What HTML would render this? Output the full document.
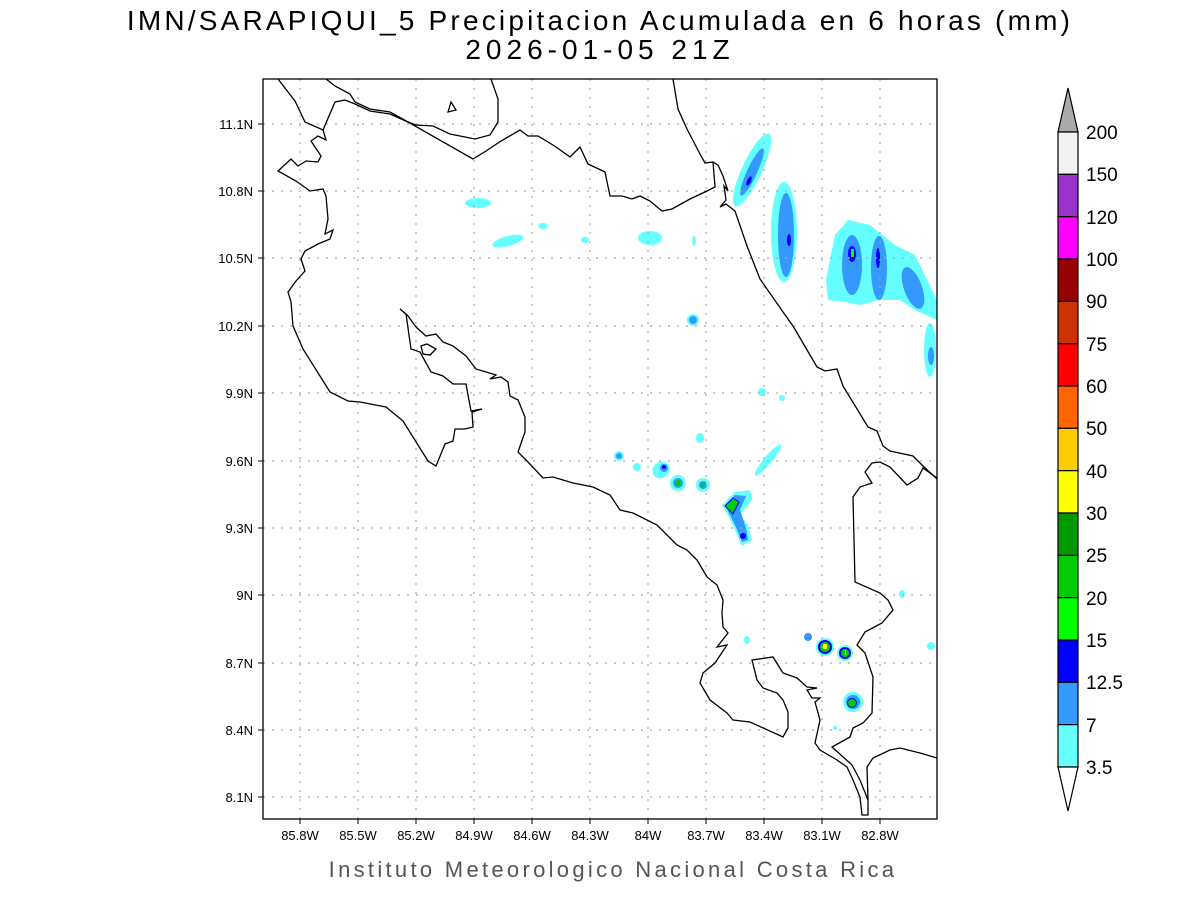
<!DOCTYPE html>
<html><head><meta charset="utf-8"><style>
body{margin:0;background:#fff;}
svg{display:block;font-family:"Liberation Sans",sans-serif;}
</style></head><body>
<svg width="1200" height="900" viewBox="0 0 1200 900" xmlns="http://www.w3.org/2000/svg">
<rect width="1200" height="900" fill="#fff"/>
<text x="600" y="30" font-size="28" text-anchor="middle" fill="#000" letter-spacing="3.2">IMN/SARAPIQUI_5 Precipitacion Acumulada en 6 horas (mm)</text>
<text x="600" y="59" font-size="28" text-anchor="middle" fill="#000" letter-spacing="5">2026-01-05 21Z</text>

<!-- precipitation -->
<g>
<ellipse cx="478" cy="203" rx="13" ry="5" fill="#66ffff"/>
<ellipse cx="508" cy="241" rx="16" ry="5" fill="#66ffff" transform="rotate(-15 508 241)"/>
<ellipse cx="543" cy="226" rx="5" ry="3" fill="#66ffff"/>
<ellipse cx="585" cy="240" rx="4" ry="3" fill="#66ffff"/>
<ellipse cx="650" cy="238" rx="12" ry="7" fill="#66ffff"/>
<ellipse cx="694" cy="241" rx="2" ry="5" fill="#66ffff"/>
<ellipse cx="752" cy="170" rx="10" ry="40" fill="#66ffff" transform="rotate(25 752 170)"/>
<ellipse cx="752" cy="172" rx="5" ry="26" fill="#3399ff" transform="rotate(25 752 172)"/>
<ellipse cx="749" cy="181" rx="2" ry="5" fill="#0000ff" transform="rotate(25 749 181)"/>
<ellipse cx="784" cy="232" rx="13" ry="50" fill="#66ffff"/>
<ellipse cx="786" cy="235" rx="8" ry="42" fill="#3399ff"/>
<ellipse cx="789" cy="240" rx="2" ry="6" fill="#0000ff"/>
<path d="M828,300 L826,280 L835,235 L848,220 L870,225 L895,245 L915,255 L937,300 L937,320 L915,310 L900,300 L880,300 L860,305 L845,302 Z" fill="#66ffff"/>
<ellipse cx="852" cy="265" rx="10" ry="30" fill="#3399ff"/>
<ellipse cx="879" cy="268" rx="8" ry="32" fill="#3399ff"/>
<ellipse cx="913" cy="288" rx="9" ry="22" fill="#3399ff" transform="rotate(-20 913 288)"/>
<ellipse cx="852" cy="254" rx="4" ry="8" fill="#0000ff"/>
<rect x="851" y="249" width="3" height="8" fill="#00ff00"/>
<ellipse cx="878" cy="258" rx="2" ry="10" fill="#0000ff"/>
<ellipse cx="930" cy="350" rx="6" ry="27" fill="#66ffff"/>
<ellipse cx="931" cy="356" rx="3" ry="9" fill="#3399ff"/>
<circle cx="693" cy="320" r="6" fill="#66ffff"/><circle cx="693" cy="320" r="4" fill="#3399ff"/>
<circle cx="762" cy="392" r="4" fill="#66ffff"/><circle cx="782" cy="398" r="3" fill="#66ffff"/>
<ellipse cx="700" cy="438" rx="4" ry="5" fill="#66ffff"/>
<ellipse cx="768" cy="460" rx="4" ry="20" fill="#66ffff" transform="rotate(40 768 460)"/>
<circle cx="619" cy="456" r="5" fill="#66ffff"/><circle cx="619" cy="456" r="3" fill="#3399ff"/>
<circle cx="637" cy="467" r="4" fill="#66ffff"/>
<ellipse cx="661" cy="470" rx="9" ry="8" fill="#66ffff" transform="rotate(-40 661 470)"/><circle cx="664" cy="468" r="4" fill="#3399ff"/><circle cx="664" cy="467" r="2" fill="#0000ff"/>
<circle cx="678" cy="483" r="8" fill="#66ffff"/><circle cx="678" cy="483" r="5" fill="#3399ff"/><circle cx="678" cy="483" r="3" fill="#00cc00"/>
<circle cx="703" cy="485" r="7" fill="#66ffff"/><circle cx="703" cy="485" r="4" fill="#3399ff"/><circle cx="703" cy="485" r="2" fill="#00cc00"/>
<path d="M722,505 L735,492 L750,490 L752,500 L740,515 L748,525 L752,540 L742,546 L735,530 L728,515 Z" fill="#66ffff"/>
<path d="M725,505 L735,495 L746,496 L740,510 L746,528 L748,540 L742,542 L735,525 L730,515 Z" fill="#3399ff"/>
<path d="M725,506 L733,498 L739,502 L733,514 Z" fill="#00cc00" stroke="#0000ff" stroke-width="1"/>
<circle cx="743" cy="536" r="3" fill="#0000ff"/>
<ellipse cx="747" cy="640" rx="3" ry="4" fill="#66ffff"/>
<circle cx="808" cy="637" r="4" fill="#3399ff"/>
<circle cx="825" cy="647" r="9" fill="#66ffff"/><circle cx="825" cy="647" r="7" fill="#0000ff"/><circle cx="825" cy="647" r="5" fill="#00cc00"/><rect x="823" y="644" width="4" height="5" fill="#ffff00"/>
<circle cx="845" cy="653" r="8" fill="#66ffff"/><circle cx="845" cy="653" r="6" fill="#0000ff"/><circle cx="845" cy="653" r="4" fill="#00cc00"/><rect x="845" y="650" width="1" height="5" fill="#ffff00"/>
<circle cx="853" cy="702" r="10" fill="#66ffff"/><circle cx="853" cy="702" r="7" fill="#3399ff"/><circle cx="852" cy="703" r="5" fill="#0000ff"/><circle cx="852" cy="703" r="4" fill="#00cc00"/>
<ellipse cx="902" cy="594" rx="3" ry="4" fill="#66ffff"/>
<circle cx="931" cy="646" r="4" fill="#66ffff"/>
<circle cx="835" cy="728" r="2" fill="#66ffff"/>
</g>

<!-- grid -->
<g stroke="#aaa" stroke-width="1.2" stroke-dasharray="2,7" fill="none">
<path d="M300,79V819M358,79V819M416,79V819M474,79V819M532,79V819M590,79V819M648,79V819M706,79V819M764,79V819M822,79V819M880,79V819"/>
<path d="M263,124H937M263,191H937M263,258H937M263,326H937M263,393H937M263,461H937M263,528H937M263,595H937M263,663H937M263,730H937M263,797H937"/>
</g>

<!-- coastlines -->
<g fill="none" stroke="#000" stroke-width="1.3">
<polyline points="278,79 295,101 305,122 323,130 335,102 345,100 355,104 370,111 390,114 408,122 473,159 486,151 501,141 520,130 528,136 538,136 548,142 556,147 570,157 580,147 588,164 605,172 610,196 622,196 632,199 640,196 650,201 662,211 672,209 690,199 707,191 715,187 713,162 705,163 700,154 687,129 678,109 673,79"/>
<polyline points="713,162 718,165 723,176 728,191 724,186 726,200 720,207 726,204 735,211 747,246 760,279 783,312 793,326 817,367 825,371 837,369 843,386 868,427 877,431 883,446 890,451 913,456 923,466 937,479"/>
<polyline points="326,79 335,86 350,94 355,102 370,109 390,112 408,122 416,125 433,126 450,134 460,136 475,139 490,135 498,122 498,99 491,79"/>
<polygon points="448,112 451,102 456,110"/>
<polyline points="323,130 326,140 318,136 311,141 321,156 318,162 306,161 298,166 291,159 278,171 296,181 310,191 323,189 326,196 328,219 325,234 333,230 330,239 318,244 305,251 301,259 305,271 296,281 288,292 291,302 293,326 303,349 330,392 348,401 360,402 386,407 403,421 428,461 436,466 445,444 453,441 455,429 465,429 473,427 472,412 482,409"/>
<polyline points="482,409 471,411 466,384 453,384 443,376 431,372 420,352 411,349 406,314 400,309 408,316 416,327 426,336 436,334 443,342 453,346 466,356 476,369 496,375 490,379 501,377 508,382 510,396 518,400 525,417 525,432 518,452 528,462 543,478 553,477 573,483 593,487 610,495 620,510 633,513 657,525 677,545 687,550 697,560 707,577 717,585 723,600 722,613 723,627 728,633 717,647 727,645 715,663 703,673 700,683 710,700 727,713 733,720 750,722 783,737 788,728 788,712 783,700 777,693 763,688 757,680 752,660 773,657 783,673 797,678 807,687 817,688 807,690 812,698 820,698 815,702 820,720 815,743 820,750 837,760 847,767 853,780 860,797 862,815 868,815 868,800 860,780 852,765 832,747 850,737 853,728 863,723 872,713 873,677 865,653 857,645 865,632 882,623 893,610 888,600 880,593 855,582 853,497 860,487 872,483 865,472 872,463 880,462 890,467 907,485 918,478 923,468 937,478"/>
<polyline points="868,800 867,767 873,758 890,750 900,748 920,753 937,758"/>
<polygon points="421,346 427,344 436,349 430,355 423,354"/>
</g>

<rect x="263" y="79" width="674" height="740" fill="none" stroke="#000" stroke-width="1.3"/>

<!-- ticks -->
<g stroke="#000" stroke-width="1">
<path d="M300,819v5M358,819v5M416,819v5M474,819v5M532,819v5M590,819v5M648,819v5M706,819v5M764,819v5M822,819v5M880,819v5"/>
<path d="M263,124h-5M263,191h-5M263,258h-5M263,326h-5M263,393h-5M263,461h-5M263,528h-5M263,595h-5M263,663h-5M263,730h-5M263,797h-5"/>
</g>
<g font-size="13" text-anchor="middle" fill="#000">
<text x="300" y="840">85.8W</text><text x="358" y="840">85.5W</text><text x="416" y="840">85.2W</text><text x="474" y="840">84.9W</text><text x="532" y="840">84.6W</text><text x="590" y="840">84.3W</text><text x="648" y="840">84W</text><text x="706" y="840">83.7W</text><text x="764" y="840">83.4W</text><text x="822" y="840">83.1W</text><text x="880" y="840">82.8W</text>
</g>
<g font-size="13" text-anchor="end" fill="#000">
<text x="253" y="129">11.1N</text><text x="253" y="196">10.8N</text><text x="253" y="263">10.5N</text><text x="253" y="331">10.2N</text><text x="253" y="398">9.9N</text><text x="253" y="466">9.6N</text><text x="253" y="533">9.3N</text><text x="253" y="600">9N</text><text x="253" y="668">8.7N</text><text x="253" y="735">8.4N</text><text x="253" y="802">8.1N</text>
</g>
<text x="613" y="877" font-size="22" text-anchor="middle" fill="#555" letter-spacing="3.3">Instituto Meteorologico Nacional Costa Rica</text>

<!-- colorbar -->
<g stroke="#000" stroke-width="1.2">
<polygon points="1058,132 1068,88 1078,132" fill="#aaaaaa"/>
<rect x="1058" y="132" width="20" height="42.33" fill="#f2f2f2"/>
<rect x="1058" y="174.33" width="20" height="42.33" fill="#9933cc"/>
<rect x="1058" y="216.67" width="20" height="42.33" fill="#ff00ff"/>
<rect x="1058" y="259" width="20" height="42.33" fill="#990000"/>
<rect x="1058" y="301.33" width="20" height="42.33" fill="#cc3300"/>
<rect x="1058" y="343.67" width="20" height="42.33" fill="#ff0000"/>
<rect x="1058" y="386" width="20" height="42.33" fill="#ff6600"/>
<rect x="1058" y="428.33" width="20" height="42.33" fill="#ffcc00"/>
<rect x="1058" y="470.67" width="20" height="42.33" fill="#ffff00"/>
<rect x="1058" y="513" width="20" height="42.33" fill="#009900"/>
<rect x="1058" y="555.33" width="20" height="42.33" fill="#00cc00"/>
<rect x="1058" y="597.67" width="20" height="42.33" fill="#00ff00"/>
<rect x="1058" y="640" width="20" height="42.33" fill="#0000ff"/>
<rect x="1058" y="682.33" width="20" height="42.33" fill="#3399ff"/>
<rect x="1058" y="724.67" width="20" height="42.33" fill="#66ffff"/>
<polygon points="1058,767 1068,811 1078,767" fill="#fff"/>
</g>
<g font-size="19" fill="#000">
<text x="1086" y="139">200</text><text x="1086" y="181">150</text><text x="1086" y="224">120</text><text x="1086" y="266">100</text><text x="1086" y="308">90</text><text x="1086" y="351">75</text><text x="1086" y="393">60</text><text x="1086" y="435">50</text><text x="1086" y="478">40</text><text x="1086" y="520">30</text><text x="1086" y="562">25</text><text x="1086" y="605">20</text><text x="1086" y="647">15</text><text x="1086" y="689">12.5</text><text x="1086" y="732">7</text><text x="1086" y="774">3.5</text>
</g>
</svg>
</body></html>
